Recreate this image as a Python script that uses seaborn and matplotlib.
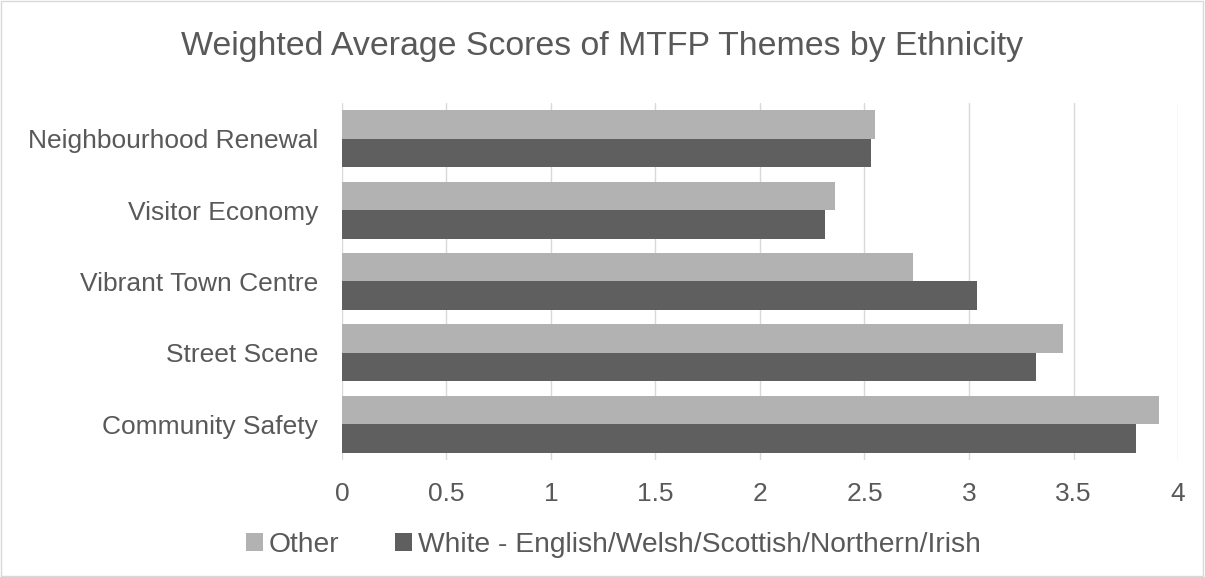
import pandas as pd
import matplotlib
matplotlib.use("Agg")
import matplotlib.pyplot as plt
import seaborn as sns
from matplotlib.patches import Rectangle

# values
themes = ["Neighbourhood Renewal", "Visitor Economy", "Vibrant Town Centre",
          "Street Scene", "Community Safety"]
other = [2.55, 2.36, 2.73, 3.45, 3.91]
white = [2.53, 2.31, 3.04, 3.32, 3.80]
groups = ["Other", "White - English/Welsh/Scottish/Northern/Irish"]
colours = ["#b2b2b2", "#5f5f5f"]
xticks = [0, 0.5, 1, 1.5, 2, 2.5, 3, 3.5, 4]
xticklabels = ["0", "0.5", "1", "1.5", "2", "2.5", "3", "3.5", "4"]

df = pd.DataFrame({
    "theme": themes * 2,
    "score": other + white,
    "group": [groups[0]] * len(themes) + [groups[1]] * len(themes),
})

sns.set_style("white")
plt.rcParams["font.family"] = ["Liberation Sans", "DejaVu Sans"]
txt = "#595959"

fig = plt.figure(figsize=(12.05, 5.77), dpi=100)
ax = fig.add_axes([0.2838, 0.2028, 0.6938, 0.6187])

sns.barplot(data=df, y="theme", x="score", hue="group", order=themes,
            hue_order=groups, palette=colours, orient="h", width=0.8,
            saturation=1, linewidth=0, ax=ax)

ax.set_xlim(0, 4)
ax.set_ylim(4.5, -0.5)
ax.set_xticks(xticks)
ax.set_xticklabels(xticklabels)
ax.grid(axis="x", color="#d9d9d9", linewidth=1)
ax.set_axisbelow(True)
for s in ax.spines.values():
    s.set_visible(False)
ax.tick_params(axis="both", length=0, labelsize=19, labelcolor=txt)
ax.tick_params(axis="y", pad=17)
ax.tick_params(axis="x", pad=16)
ax.set_xlabel("")
ax.set_ylabel("")

handles, labels = ax.get_legend_handles_labels()
ax.get_legend().remove()
fig.legend(handles, labels, loc="center", bbox_to_anchor=(0.509, 0.0555),
           ncol=2, frameon=False, fontsize=20.3, labelcolor=txt,
           handlelength=0.6, handleheight=0.6, handletextpad=0.2,
           columnspacing=2.0)

fig.text(0.5, 1 - 47 / 577, "Weighted Average Scores of MTFP Themes by Ethnicity",
         ha="center", va="center", fontsize=24.4, color=txt)

fig.patches.append(Rectangle((0.0005, 0.001), 0.998, 0.997, transform=fig.transFigure,
                             fill=False, edgecolor="#d9d9d9", linewidth=1))

fig.savefig("out.png", dpi=100)
